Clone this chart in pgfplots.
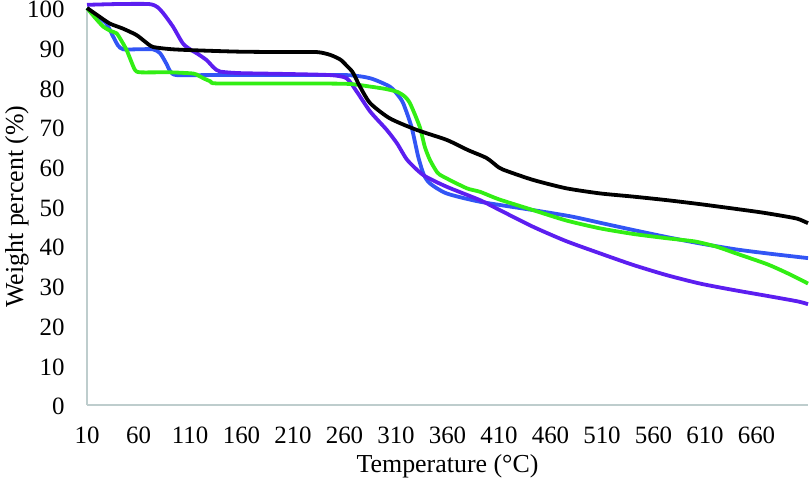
\documentclass[border=0pt]{standalone}
\usepackage{fontspec}
\setmainfont{Liberation Serif}
\usepackage{pgfplots}
\pgfplotsset{compat=1.18}
\definecolor{cpurple}{RGB}{92,30,240}
\definecolor{cblue}{RGB}{50,85,245}
\definecolor{cgreen}{RGB}{50,238,20}
\definecolor{caxis}{RGB}{190,205,205}
\begin{document}
\begin{tikzpicture}
\begin{axis}[
  scale only axis, width=360.5bp, height=198.5bp,
  xmin=10, xmax=710, ymin=0, ymax=100,
  axis x line*=bottom, axis y line*=left,
  axis line style={caxis, line width=0.6bp, -},
  xtick={10,60,...,660}, ytick={0,10,...,100},
  major tick length=0pt,
  tick label style={font=\fontsize{12.5}{13}\selectfont},
  /pgf/number format/assume math mode=true,
  /pgf/number format/1000 sep={},
  yticklabel style={anchor=east, inner sep=0pt, xshift=-11bp, yshift=-0.8bp},
  xticklabel style={anchor=center, inner sep=0pt, yshift=-15.3bp},
  xlabel={Temperature (°C)}, ylabel={Weight percent (\%)},
  label style={font=\fontsize{13}{14}\selectfont},
  xlabel style={at={([yshift=-30.5bp]axis description cs:0.5,0)}, anchor=center, inner sep=0pt},
  ylabel style={at={([xshift=-35bp]axis description cs:0,0.5)}, anchor=center, inner sep=0pt},
  clip=false,
  every axis plot/.append style={line width=1.9bp, smooth, tension=0.4, no marks},
]
\addplot[cblue] coordinates {
(10,100) (20,98) (29,96) (35,93) (40,90.6) (45,89.6) (60,89.6) (74,89.6) (81,88.6) (87,86) (91,84) (97,83.1) (130,83.1) (200,83.1) (262,83.1) (285,82.3) (304,80.2) (312,78) (317,76) (325,70.1) (331.6,62.5) (337,58) (343,55.8) (359,53.3) (391.6,51.2) (443,49.1) (480,47.5) (510,45.8) (540,44.1) (573,42.3) (605,40.7) (640,39.2) (670,38.2) (710,37.0)
};
\addplot[cpurple] coordinates {
(10,100.8) (40,101) (70,101) (78,100.3) (84,98.7) (93.5,95.3) (103,91.1) (110,89.6) (116.5,88.6) (126,86.9) (133,85) (139,84) (158,83.6) (200,83.4) (246,83.1) (262,82.3) (272,78.9) (285,73.9) (301,69.3) (311,65.9) (321,61.7) (336.6,57.9) (359,55) (391.6,51.6) (410,49.2) (443,44.9) (475,41.3) (508,38.2) (540,35.3) (573,32.7) (605,30.6) (637,29) (670,27.5) (700,26.1) (710,25.4)
};
\addplot[cgreen] coordinates {
(10,100) (18,97.5) (25.8,95.3) (33,94.2) (38.8,93.6) (44,91.5) (48.5,89.4) (53,86.5) (56.6,84.4) (61.5,83.8) (90,83.8) (113,83.5) (118,83) (123,82.3) (130,81.5) (136,81) (200,81) (262,80.9) (285,80.2) (300,79.6) (311,78.9) (318,77.8) (323.6,76) (333,70.1) (338,65) (343,61.7) (350,58.6) (356,57.5) (378.6,54.6) (391.6,53.7) (410,51.8) (443,49.1) (475,46.5) (508,44.5) (540,43.1) (573,42) (600,41.2) (621,39.9) (640,38.2) (670,35.5) (690,33.2) (710,30.6)
};
\addplot[black] coordinates {
(10,100) (20,98.2) (32,96.1) (45,94.8) (58,93.2) (66,91.6) (74,90.2) (93,89.6) (120,89.3) (158,89.0) (200,88.9) (233,88.9) (246,88.2) (256,87.0) (262,85.5) (268,83.8) (275,80.2) (285,76) (304,72.2) (330,69.3) (359,66.8) (380,64.2) (398,62.2) (410,59.8) (418,58.9) (443,56.7) (475,54.6) (508,53.3) (540,52.5) (573,51.6) (605,50.6) (637,49.5) (665,48.5) (686,47.6) (700,46.9) (710,45.8)
};
\coordinate (SW) at (rel axis cs:0,0);
\coordinate (NE) at (rel axis cs:1,1);
\end{axis}
\pgfresetboundingbox
\useasboundingbox ([shift={(-43.5bp,-40bp)}]SW) rectangle ([shift={(1bp,4bp)}]NE);
\end{tikzpicture}
\end{document}
